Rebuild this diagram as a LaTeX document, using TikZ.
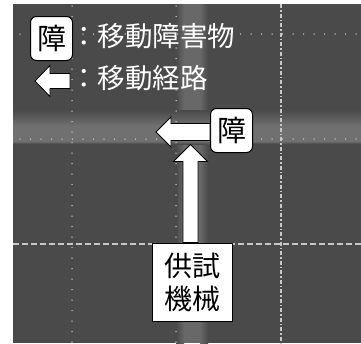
\documentclass[tikz,border=0pt]{standalone}
\usepackage{fontspec}
\newfontfamily\cjk{Noto Sans CJK JP}
\usetikzlibrary{calc}
\definecolor{bgc}{RGB}{74,74,74}
\definecolor{bandc}{RGB}{112,112,112}
\definecolor{vbandc}{RGB}{104,104,104}
\definecolor{gridc}{RGB}{200,200,200}
\tikzset{
  obst/.style={draw=black,line width=1pt,fill=white,rounded corners=6pt,
    minimum width=42pt,minimum height=44pt,inner sep=0pt,
    font=\cjk\fontsize{29}{30}\selectfont},
  machine/.style={draw=black,line width=1pt,fill=white,minimum width=80pt,
    minimum height=78pt,inner sep=0pt,align=center,
    font=\cjk\fontsize{28}{33}\selectfont},
  legtext/.style={anchor=base west,inner sep=0pt,text=white,
    font=\cjk\fontsize{27.5}{30}\selectfont},
  patharrow/.style={draw=black,line width=0.8pt,fill=white,line join=miter},
  dotline/.style={gridc,line width=1.5pt,line cap=round,dash pattern=on 0pt off 10.5pt},
  dashdotline/.style={gridc,line width=1.2pt,dash pattern=on 4pt off 2pt on 1.5pt off 2pt},
  dashline/.style={gridc,line width=1.2pt,dash pattern=on 6pt off 3pt},
}
\begin{document}
\begin{tikzpicture}[x=1pt,y=-1pt]
\useasboundingbox (0,0) rectangle (361,343);
% background photo area
\fill[white] (0,0) rectangle (361,343);
\fill[bgc] (13,4) rectangle (361,343);
% lighter tracks
\shade[left color=bgc,right color=vbandc] (176,4) rectangle (184,343);
\fill[vbandc] (184,4) rectangle (200,343);
\shade[left color=vbandc,right color=bgc] (200,4) rectangle (208,343);
\shade[top color=bgc,bottom color=bandc] (13,110) rectangle (361,126);
\fill[bandc] (13,126) rectangle (361,141);
\shade[top color=bandc,bottom color=bgc] (13,141) rectangle (361,144);
% grid lines
\draw[dotline] (72,6) -- (72,343);
\draw[dotline] (176,6) -- (176,343);
\draw[dashdotline] (281,4) -- (281,343);
\draw[dotline] (20,34) -- (361,34);
\draw[dotline] (20,139) -- (361,139);
\draw[dashline] (13,244) -- (361,244);
% legend
\node[obst] (legobs) at (51.5,38.5) {障};
\node[legtext] (legt1) at (70,46) {：移動障害物};
\node[legtext] (legt2) at (70,88.5) {：移動経路};
\draw[patharrow] (70,73.5) -- (50,73.5) -- (50,65.5) -- (35,81) -- (50,96.5) -- (50,88.5) -- (70,88.5) -- cycle;
% main scene
\node[obst] (obs) at (231.5,130.5) {障};
\node[machine] (mach) at (192,282) {供試\\機械};
\coordinate (ub) at ($(mach.north)+(-1.5,0)$);
\draw[patharrow] ($(ub)+(-7.5,0)$) -- ($(ub)+(-7.5,-81)$) -- ($(ub)+(-17,-81)$)
  -- ($(ub)+(0,-98)$) -- ($(ub)+(17,-81)$) -- ($(ub)+(7.5,-81)$)
  -- ($(ub)+(7.5,0)$) -- cycle;
\coordinate (lb) at ($(obs.west)+(0,1.5)$);
\draw[patharrow] ($(lb)+(0,-8.5)$) -- ($(lb)+(-39,-8.5)$) -- ($(lb)+(-39,-15)$)
  -- ($(lb)+(-54,0)$) -- ($(lb)+(-39,15)$) -- ($(lb)+(-39,8.5)$)
  -- ($(lb)+(0,8.5)$) -- cycle;
\end{tikzpicture}
\end{document}
